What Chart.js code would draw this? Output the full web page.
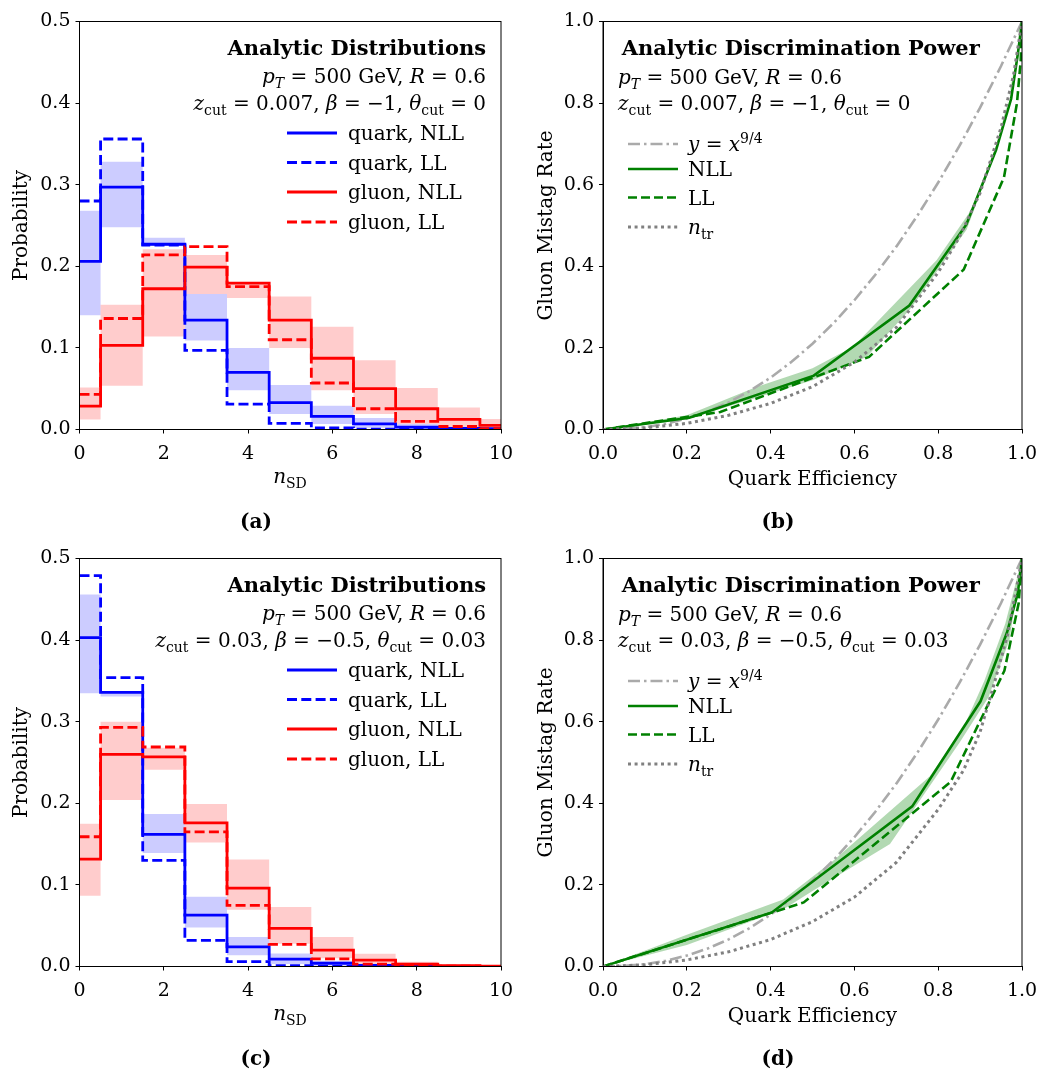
<!DOCTYPE html>
<html>
<head>
<meta charset="utf-8">
<script src="https://cdn.jsdelivr.net/npm/chart.js@4.4.0/dist/chart.umd.min.js"></script>
<style>
  body { margin: 0; background: #fff; }
  #wrap { position: relative; width: 1038px; height: 1072px; }
  canvas { position: absolute; }
</style>
</head>
<body>
<div id="wrap">
  <canvas id="ca" width="519" height="535" style="left:0;top:0;width:519px;height:535px"></canvas>
  <canvas id="cb" width="519" height="535" style="left:519px;top:0;width:519px;height:535px"></canvas>
  <canvas id="cc" width="519" height="535" style="left:0;top:537px;width:519px;height:535px"></canvas>
  <canvas id="cd" width="519" height="535" style="left:519px;top:537px;width:519px;height:535px"></canvas>
</div>
<script>
const SERIF = '"DejaVu Serif"';

// ---- histogram data, n_SD bins ----
const nSD = [0, 1, 2, 3, 4, 5, 6, 7, 8, 9, 10];

// panel (a): zcut = 0.007, beta = -1, theta_cut = 0
const quarkNLL_a  = [0.206, 0.297, 0.227, 0.134, 0.070, 0.033, 0.016, 0.007, 0.003, 0.0015, 0.001];
const quarkLL_a   = [0.280, 0.356, 0.226, 0.097, 0.031, 0.0075, 0.002, 0.0005, 0.0002, 0, 0];
const quarkHi_a   = [0.268, 0.328, 0.235, 0.166, 0.100, 0.0545, 0.029, 0.014, 0.0066, 0.003, 0.0015];
const quarkLo_a   = [0.140, 0.248, 0.225, 0.109, 0.048, 0.019, 0.0066, 0.002, 0.0004, 0.0002, 0];
const gluonNLL_a  = [0.0287, 0.103, 0.1725, 0.199, 0.1795, 0.134, 0.0873, 0.050, 0.0254, 0.0123, 0.005];
const gluonLL_a   = [0.043, 0.136, 0.214, 0.224, 0.175, 0.110, 0.057, 0.0254, 0.010, 0.0037, 0.001];
const gluonHi_a   = [0.0516, 0.153, 0.221, 0.214, 0.180, 0.163, 0.126, 0.085, 0.051, 0.027, 0.013];
const gluonLo_a   = [0.0123, 0.0537, 0.114, 0.166, 0.161, 0.100, 0.048, 0.019, 0.0066, 0.0025, 0.0004];

// panel (c): zcut = 0.03, beta = -0.5, theta_cut = 0.03
const quarkNLL_c  = [0.403, 0.336, 0.162, 0.063, 0.024, 0.009, 0.004, 0.0015, 0.0005, 0.0002, 0.0001];
const quarkLL_c   = [0.479, 0.354, 0.130, 0.032, 0.006, 0.001, 0.0002, 0, 0, 0, 0];
const quarkHi_c   = [0.456, 0.336, 0.187, 0.0854, 0.036, 0.016, 0.007, 0.003, 0.001, 0.0005, 0.0002];
const quarkLo_c   = [0.335, 0.331, 0.139, 0.0478, 0.0139, 0.003, 0.001, 0.0003, 0.0001, 0, 0];
const gluonNLL_c  = [0.1316, 0.260, 0.257, 0.176, 0.096, 0.0466, 0.020, 0.0078, 0.003, 0.001, 0.0004];
const gluonLL_c   = [0.159, 0.293, 0.269, 0.165, 0.075, 0.027, 0.0094, 0.003, 0.001, 0.0003, 0.0001];
const gluonHi_c   = [0.175, 0.300, 0.268, 0.199, 0.131, 0.073, 0.036, 0.0155, 0.0057, 0.002, 0.0008];
const gluonLo_c   = [0.0866, 0.204, 0.241, 0.152, 0.0695, 0.028, 0.010, 0.003, 0.0004, 0.0001, 0];

// ---- ROC data: quark efficiency / gluon mistag ----
const powEff = [0, 0.05, 0.1, 0.15, 0.2, 0.25, 0.3, 0.35, 0.4, 0.45, 0.5, 0.55, 0.6, 0.65, 0.7, 0.75, 0.8, 0.85, 0.9, 0.95, 1];
const powMis = [0, 0.0012, 0.0056, 0.014, 0.0268, 0.0442, 0.0666, 0.0942, 0.1272, 0.1658, 0.2102, 0.2605, 0.3169, 0.3794, 0.4482, 0.5235, 0.6053, 0.6937, 0.7889, 0.891, 1];

// panel (b)
const nllEff_b = [0, 0.206, 0.503, 0.731, 0.867, 0.938, 0.974, 0.99, 1];
const nllMis_b = [0, 0.029, 0.132, 0.304, 0.502, 0.685, 0.81, 0.92, 1];
const llEff_b  = [0, 0.28, 0.635, 0.861, 0.957, 0.988, 0.997, 1];
const llMis_b  = [0, 0.043, 0.178, 0.392, 0.618, 0.80, 0.905, 1];
const hiEff_b  = [0, 0.2, 0.366, 0.5, 0.597, 0.796, 0.884, 0.94, 0.975, 1];
const hiMis_b  = [0, 0.035, 0.104, 0.15, 0.203, 0.415, 0.546, 0.70, 0.84, 1];
const loEff_b  = [0, 0.2, 0.366, 0.5, 0.629, 0.733, 0.868, 0.93, 0.96, 0.99, 1];
const loMis_b  = [0, 0.025, 0.078, 0.121, 0.178, 0.295, 0.49, 0.66, 0.77, 0.93, 1];
const trEff_b  = [0, 0.1, 0.2, 0.3, 0.4, 0.5, 0.6, 0.7, 0.8, 0.85, 0.9, 0.95, 0.98, 1];
const trMis_b  = [0, 0.004, 0.015, 0.035, 0.064, 0.105, 0.165, 0.25, 0.385, 0.47, 0.58, 0.74, 0.87, 1];

// panel (d)
const nllEff_d = [0, 0.403, 0.738, 0.901, 0.964, 0.99, 1];
const nllMis_d = [0, 0.1325, 0.3925, 0.650, 0.818, 0.915, 1];
const llEff_d  = [0, 0.479, 0.830, 0.958, 0.992, 1];
const llMis_d  = [0, 0.157, 0.453, 0.725, 0.89, 1];
const hiEff_d  = [0, 0.2, 0.43, 0.55, 0.78, 0.86, 0.91, 0.96, 1];
const hiMis_d  = [0, 0.078, 0.164, 0.26, 0.466, 0.585, 0.70, 0.84, 1];
const loEff_d  = [0, 0.2, 0.43, 0.5, 0.685, 0.852, 0.92, 0.97, 1];
const loMis_d  = [0, 0.053, 0.14, 0.185, 0.30, 0.55, 0.66, 0.80, 1];
const trEff_d  = [0, 0.1, 0.2, 0.3, 0.4, 0.5, 0.6, 0.7, 0.8, 0.86, 0.9, 0.93, 0.965, 1];
const trMis_d  = [0, 0.004, 0.016, 0.036, 0.066, 0.11, 0.17, 0.255, 0.385, 0.48, 0.575, 0.68, 0.81, 1];

const histTicks = [0, 2, 4, 6, 8, 10];

// ---- helpers ----
const pts = (xs, ys) => xs.map((x, i) => ({ x, y: ys[i] }));

function fontOf(r, size, bold) {
  const s = (r.sub || r.sup) ? Math.round(size * 0.7) : size;
  return (r.i ? 'italic ' : '') + (bold ? 'bold ' : '') + s + 'px ' + SERIF;
}

function drawRich(ctx, runs, x, y, size, align, bold) {
  let w = 0;
  runs.forEach(r => { ctx.font = fontOf(r, size, bold); w += ctx.measureText(r.t).width; });
  let cx = align === 'right' ? x - w : align === 'center' ? x - w / 2 : x;
  ctx.textAlign = 'left';
  ctx.textBaseline = 'alphabetic';
  runs.forEach(r => {
    ctx.font = fontOf(r, size, bold);
    const dy = r.sub ? 0.24 * size : r.sup ? -0.42 * size : 0;
    ctx.fillText(r.t, cx, y + dy);
    cx += ctx.measureText(r.t).width;
  });
}

const STYLES = {
  qn: { color: '#0000ff', dash: [], width: 2.8 },
  ql: { color: '#0000ff', dash: [10, 4.3], width: 2.8 },
  gn: { color: '#ff0000', dash: [], width: 2.8 },
  gl: { color: '#ff0000', dash: [10, 4.3], width: 2.8 },
  pow: { color: '#aaaaaa', dash: [12, 4, 2.5, 4], width: 2.6 },
  nll: { color: '#008000', dash: [], width: 2.6 },
  ll: { color: '#008000', dash: [9, 4], width: 2.6 },
  tr: { color: '#808080', dash: [3, 3.6], width: 3 }
};

const decor = {
  id: 'decor',
  afterDraw(chart, args, o) {
    const { ctx, chartArea: a } = chart;
    ctx.save();
    ctx.setLineDash([]);
    ctx.strokeStyle = '#000';
    ctx.lineWidth = 1;
    ctx.strokeRect(a.left, a.top, a.right - a.left, a.bottom - a.top);
    ctx.fillStyle = '#000';
    o.texts.forEach(t => drawRich(ctx, t.runs, t.x, t.y, t.size, t.align, t.bold));
    o.legend.rows.forEach((row, k) => {
      const st = STYLES[row.style];
      const y = o.legend.ys[k];
      ctx.beginPath();
      ctx.strokeStyle = st.color;
      ctx.lineWidth = st.width;
      ctx.setLineDash(st.dash);
      ctx.moveTo(o.legend.x1, y);
      ctx.lineTo(o.legend.x2, y);
      ctx.stroke();
      ctx.setLineDash([]);
      ctx.fillStyle = '#000';
      drawRich(ctx, row.runs, o.legend.tx, y + 7, 20, 'left', false);
    });
    // rotated y title
    ctx.save();
    ctx.translate(o.yTitle.x, o.yTitle.y);
    ctx.rotate(-Math.PI / 2);
    drawRich(ctx, o.yTitle.runs, 0, 0, 20, 'center', false);
    ctx.restore();
    ctx.restore();
  }
};

function scales(xMax, xStep, yMax, yWidth, xFmt) {
  const base = (step, max) => ({
    type: 'linear', min: 0, max: max,
    grid: { display: true, drawOnChartArea: false, drawTicks: true, tickLength: 4, tickColor: '#000', color: '#000' },
    border: { display: true, color: '#000', width: 1 },
    ticks: { color: '#000', font: { family: 'DejaVu Serif', size: 19 }, stepSize: step, maxRotation: 0, autoSkip: false }
  });
  const x = base(xStep, xMax);
  x.ticks.padding = 9;
  x.ticks.callback = xFmt;
  // fixed box so the plot area lands where the figure has it
  x.afterFit = s => { s.height = 40; s.paddingLeft = 0; s.paddingRight = 0; };
  const y = base(yMax / 5, yMax);
  y.ticks.padding = 5;
  y.ticks.callback = v => v.toFixed(1);
  y.afterFit = s => { s.width = yWidth; s.paddingTop = 0; s.paddingBottom = 0; };
  return { x, y };
}

function lineSet(xs, ys, st, order, stepped) {
  const s = STYLES[st];
  return { data: pts(xs, ys), borderColor: s.color, borderWidth: s.width, borderDash: s.dash,
           pointRadius: 0, fill: false, order: order, stepped: stepped || false };
}
function edgeSet(xs, ys, fillColor, order, stepped) {
  return { data: pts(xs, ys), borderColor: 'rgba(0,0,0,0)', borderWidth: 1, pointRadius: 0,
           fill: fillColor ? '-1' : false, backgroundColor: fillColor || 'rgba(0,0,0,0)',
           order: order, stepped: stepped || false };
}

function histChart(id, d, zRuns) {
  new Chart(document.getElementById(id), {
    type: 'line',
    data: { datasets: [
      edgeSet(nSD, d.qlo, null, 20, 'middle'),
      edgeSet(nSD, d.qhi, 'rgba(0,0,255,0.2)', 20, 'middle'),
      edgeSet(nSD, d.glo, null, 19, 'middle'),
      edgeSet(nSD, d.ghi, 'rgba(255,0,0,0.2)', 19, 'middle'),
      lineSet(nSD, d.qn, 'qn', 4, 'middle'),
      lineSet(nSD, d.ql, 'ql', 3, 'middle'),
      lineSet(nSD, d.gn, 'gn', 2, 'middle'),
      lineSet(nSD, d.gl, 'gl', 1, 'middle')
    ] },
    options: {
      responsive: false, animation: false, devicePixelRatio: 1,
      layout: { padding: { left: 0, right: 18, top: 21.5, bottom: 65.5 } },
      scales: scales(10, 2, 0.5, 79.5, v => histTicks.includes(v) ? String(v) : ''),
      plugins: {
        legend: { display: false }, tooltip: { enabled: false },
        decor: {
          texts: [
            { runs: [{ t: 'Analytic Distributions' }], x: 486, y: 55, size: 21, align: 'right', bold: true },
            { runs: [{ t: 'p', i: 1 }, { t: 'T', i: 1, sub: 1 }, { t: ' = 500 GeV, ' }, { t: 'R', i: 1 }, { t: ' = 0.6' }],
              x: 486, y: 83, size: 20, align: 'right' },
            { runs: zRuns, x: 486, y: 110, size: 20, align: 'right' },
            { runs: [{ t: 'n', i: 1 }, { t: 'SD', sub: 1 }], x: 290, y: 483, size: 20, align: 'center' },
            { runs: [{ t: d.cap }], x: 256, y: 528, size: 20, align: 'center', bold: true }
          ],
          legend: {
            x1: 287, x2: 337, tx: 348, ys: [133, 162.5, 192, 222],
            rows: [
              { style: 'qn', runs: [{ t: 'quark, NLL' }] },
              { style: 'ql', runs: [{ t: 'quark, LL' }] },
              { style: 'gn', runs: [{ t: 'gluon, NLL' }] },
              { style: 'gl', runs: [{ t: 'gluon, LL' }] }
            ]
          },
          yTitle: { runs: [{ t: 'Probability' }], x: 27, y: 225.5 }
        }
      }
    },
    plugins: [decor]
  });
}

function rocChart(id, d, zRuns) {
  new Chart(document.getElementById(id), {
    type: 'line',
    data: { datasets: [
      lineSet(powEff, powMis, 'pow', 5),
      edgeSet(d.loE, d.loM, null, 10),
      edgeSet(d.hiE, d.hiM, 'rgba(0,128,0,0.3)', 10),
      lineSet(d.nE, d.nM, 'nll', 3),
      lineSet(d.lE, d.lM, 'll', 2),
      lineSet(d.tE, d.tM, 'tr', 1)
    ] },
    options: {
      responsive: false, animation: false, devicePixelRatio: 1,
      layout: { padding: { left: 0, right: 16, top: 21.5, bottom: 65.5 } },
      scales: scales(1, 0.2, 1, 84, v => v.toFixed(1)),
      plugins: {
        legend: { display: false }, tooltip: { enabled: false },
        decor: {
          texts: [
            { runs: [{ t: 'Analytic Discrimination Power' }], x: 102.7, y: 55, size: 21, align: 'left', bold: true },
            { runs: [{ t: 'p', i: 1 }, { t: 'T', i: 1, sub: 1 }, { t: ' = 500 GeV, ' }, { t: 'R', i: 1 }, { t: ' = 0.6' }],
              x: 99, y: 84, size: 20, align: 'left' },
            { runs: zRuns, x: 99, y: 110, size: 20, align: 'left' },
            { runs: [{ t: 'Quark Efficiency' }], x: 293.5, y: 485, size: 20, align: 'center' },
            { runs: [{ t: d.cap }], x: 259, y: 528, size: 20, align: 'center', bold: true }
          ],
          legend: {
            x1: 109, x2: 159, tx: 169, ys: [144, 169, 197.5, 227],
            rows: [
              { style: 'pow', runs: [{ t: 'y', i: 1 }, { t: ' = ' }, { t: 'x', i: 1 }, { t: '9/4', sup: 1 }] },
              { style: 'nll', runs: [{ t: 'NLL' }] },
              { style: 'll', runs: [{ t: 'LL' }] },
              { style: 'tr', runs: [{ t: 'n', i: 1 }, { t: 'tr', sub: 1 }] }
            ]
          },
          yTitle: { runs: [{ t: 'Gluon Mistag Rate' }], x: 33, y: 225.5 }
        }
      }
    },
    plugins: [decor]
  });
}

const zRuns_a = [{ t: 'z', i: 1 }, { t: 'cut', sub: 1 }, { t: ' = 0.007, ' }, { t: 'β', i: 1 }, { t: ' = −1, ' },
                 { t: 'θ', i: 1 }, { t: 'cut', sub: 1 }, { t: ' = 0' }];
const zRuns_c = [{ t: 'z', i: 1 }, { t: 'cut', sub: 1 }, { t: ' = 0.03, ' }, { t: 'β', i: 1 }, { t: ' = −0.5, ' },
                 { t: 'θ', i: 1 }, { t: 'cut', sub: 1 }, { t: ' = 0.03' }];

histChart('ca', { qn: quarkNLL_a, ql: quarkLL_a, qhi: quarkHi_a, qlo: quarkLo_a,
                  gn: gluonNLL_a, gl: gluonLL_a, ghi: gluonHi_a, glo: gluonLo_a, cap: '(a)' }, zRuns_a);
histChart('cc', { qn: quarkNLL_c, ql: quarkLL_c, qhi: quarkHi_c, qlo: quarkLo_c,
                  gn: gluonNLL_c, gl: gluonLL_c, ghi: gluonHi_c, glo: gluonLo_c, cap: '(c)' }, zRuns_c);
rocChart('cb', { nE: nllEff_b, nM: nllMis_b, lE: llEff_b, lM: llMis_b, hiE: hiEff_b, hiM: hiMis_b,
                 loE: loEff_b, loM: loMis_b, tE: trEff_b, tM: trMis_b, cap: '(b)' }, zRuns_a);
rocChart('cd', { nE: nllEff_d, nM: nllMis_d, lE: llEff_d, lM: llMis_d, hiE: hiEff_d, hiM: hiMis_d,
                 loE: loEff_d, loM: loMis_d, tE: trEff_d, tM: trMis_d, cap: '(d)' }, zRuns_c);
</script>
</body>
</html>
